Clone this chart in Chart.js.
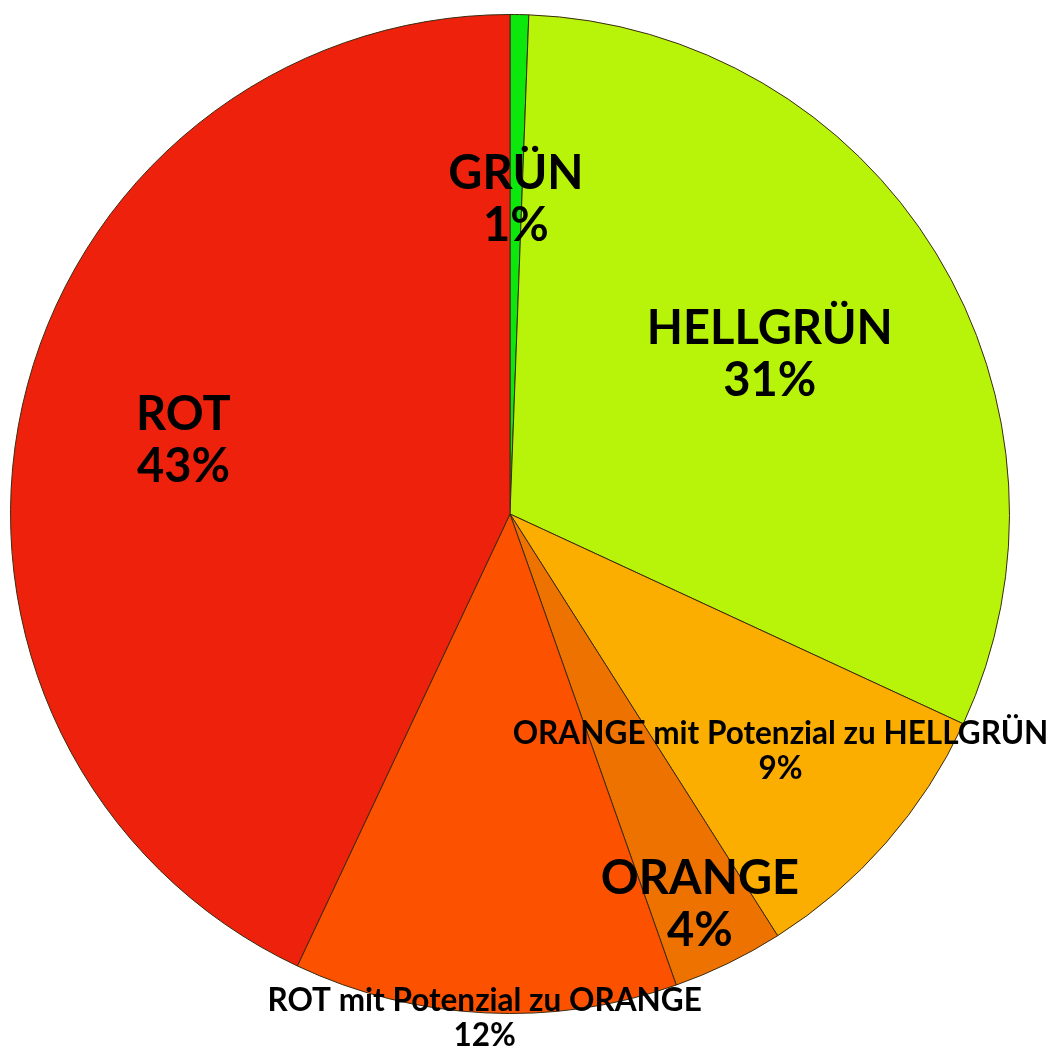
<!DOCTYPE html>
<html>
<head>
<meta charset="utf-8">
<script src="https://cdn.jsdelivr.net/npm/chart.js@4.4.1/dist/chart.umd.min.js"></script>
<style>
  html, body { margin: 0; padding: 0; background: #fff; }
  #wrap { width: 1053px; height: 1050px; }
</style>
</head>
<body>
<div id="wrap"><canvas id="pie"></canvas></div>
<script>
// Categories in clockwise order, starting at 12 o'clock
const categories = [
  'GRÜN',
  'HELLGRÜN',
  'ORANGE mit Potenzial zu HELLGRÜN',
  'ORANGE',
  'ROT mit Potenzial zu ORANGE',
  'ROT'
];
const shares = [0.6, 31.3, 9.1, 3.6, 12.4, 43.0];
const sliceColors = ['#0ce80c', '#b8f40a', '#fcae00', '#ee7200', '#fc5200', '#ee220c'];

// label placement: fraction of radius, font size, line height
const labelStyle = [
  { r: 0.63, size: 47, lh: 52 },
  { r: 0.61, size: 47, lh: 52 },
  { r: 0.72, size: 31.5, lh: 35 },
  { r: 0.87, size: 47, lh: 52 },
  { r: 1.01, size: 31.5, lh: 35 },
  { r: 0.67, size: 47, lh: 52 }
];

const sliceLabels = {
  id: 'sliceLabels',
  afterDatasetsDraw(chart) {
    const ctx = chart.ctx;
    const meta = chart.getDatasetMeta(0);
    const total = shares.reduce((a, b) => a + b, 0);
    ctx.save();
    ctx.fillStyle = '#000';
    ctx.textAlign = 'center';
    ctx.textBaseline = 'middle';
    meta.data.forEach((arc, i) => {
      const p = arc.getProps(['x', 'y', 'startAngle', 'endAngle', 'outerRadius'], true);
      const mid = (p.startAngle + p.endAngle) / 2;
      const st = labelStyle[i];
      const cx = p.x + Math.cos(mid) * p.outerRadius * st.r;
      const cy = p.y + Math.sin(mid) * p.outerRadius * st.r;
      const pct = Math.round(shares[i] / total * 100) + '%';
      ctx.font = 'bold ' + st.size + 'px Lato, "Open Sans", sans-serif';
      ctx.fillText(categories[i], cx, cy - st.lh / 2);
      ctx.fillText(pct, cx, cy + st.lh / 2);
    });
    ctx.restore();
  }
};

new Chart(document.getElementById('pie'), {
  type: 'pie',
  data: {
    labels: categories,
    datasets: [{
      data: shares,
      backgroundColor: sliceColors,
      borderColor: '#3a2a10',
      borderWidth: 1
    }]
  },
  options: {
    responsive: true,
    maintainAspectRatio: false,
    animation: false,
    layout: { padding: { left: 10, top: 14, right: 43, bottom: 36 } },
    plugins: {
      legend: { display: false },
      tooltip: { enabled: false },
      title: { display: false }
    }
  },
  plugins: [sliceLabels]
});
</script>
</body>
</html>
